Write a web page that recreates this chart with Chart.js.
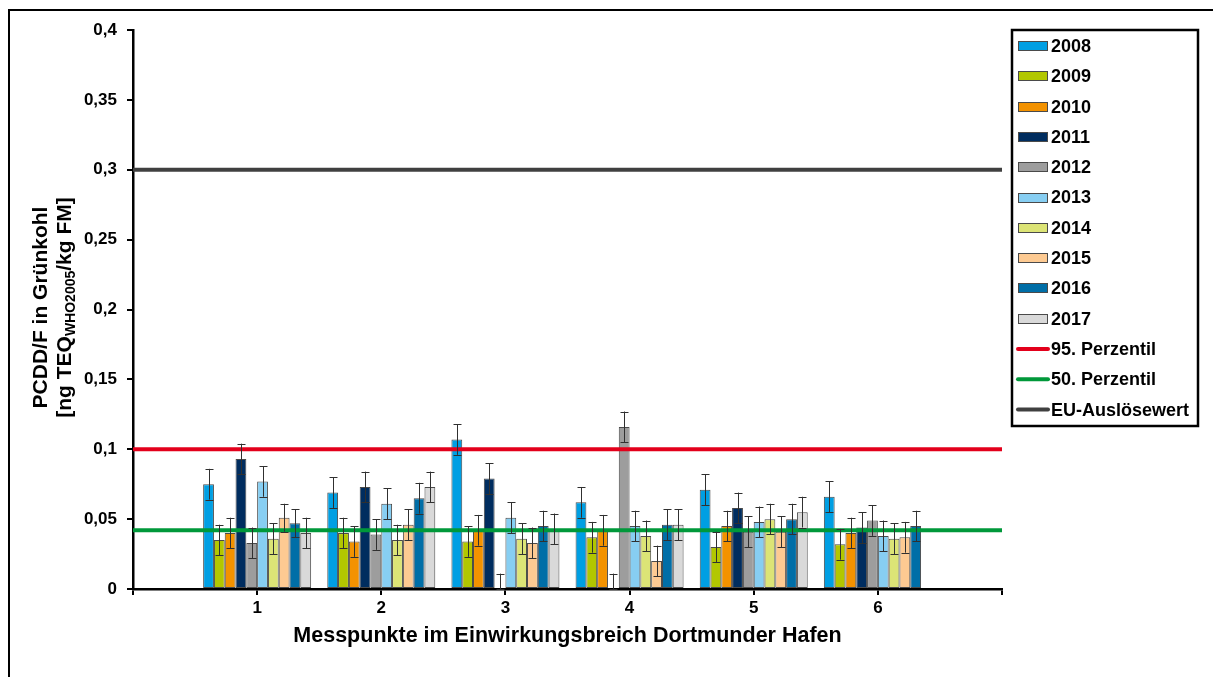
<!DOCTYPE html>
<html><head><meta charset="utf-8">
<script src="https://cdn.jsdelivr.net/npm/chart.js@4.4.1/dist/chart.umd.min.js"></script>
<style>html,body{margin:0;padding:0;background:#fff;}#wrap{position:relative;width:1213px;height:677px;}</style>
</head><body><div id="wrap"><canvas id="c" width="1213" height="677"></canvas></div>
<script>
const categories = ['1','2','3','4','5','6'];
const years = ['2008','2009','2010','2011','2012','2013','2014','2015','2016','2017'];
const v2008 = [0.075, 0.069, 0.107, 0.062, 0.071, 0.066];
const v2009 = [0.035, 0.040, 0.034, 0.037, 0.030, 0.032];
const v2010 = [0.040, 0.034, 0.042, 0.042, 0.045, 0.040];
const v2011 = [0.093, 0.073, 0.079, 0, 0.058, 0.044];
const v2012 = [0.033, 0.039, 0, 0.116, 0.041, 0.049];
const v2013 = [0.077, 0.061, 0.051, 0.045, 0.048, 0.038];
const v2014 = [0.036, 0.035, 0.036, 0.038, 0.050, 0.036];
const v2015 = [0.051, 0.046, 0.033, 0.020, 0.041, 0.037];
const v2016 = [0.047, 0.065, 0.045, 0.046, 0.050, 0.045];
const v2017 = [0.040, 0.073, 0.043, 0.046, 0.055, null];
const e2008 = [0.011, 0.011, 0.011, 0.011, 0.011, 0.011];
const e2009 = [0.011, 0.011, 0.011, 0.011, 0.011, 0.011];
const e2010 = [0.011, 0.011, 0.011, 0.011, 0.011, 0.011];
const e2011 = [0.011, 0.011, 0.011, 0.011, 0.011, 0.011];
const e2012 = [0.011, 0.011, 0.011, 0.011, 0.011, 0.011];
const e2013 = [0.011, 0.011, 0.011, 0.011, 0.011, 0.011];
const e2014 = [0.011, 0.011, 0.011, 0.011, 0.011, 0.011];
const e2015 = [0.010, 0.011, 0.011, 0.011, 0.011, 0.011];
const e2016 = [0.010, 0.011, 0.011, 0.011, 0.011, 0.011];
const e2017 = [0.011, 0.011, 0.011, 0.011, 0.011, 0.011];
const p95 = 0.1;
const p50 = 0.042;
const euTrigger = 0.3;
const yTicks = [0, 0.05, 0.1, 0.15, 0.2, 0.25, 0.3, 0.35, 0.4];

const values = [v2008, v2009, v2010, v2011, v2012, v2013, v2014, v2015, v2016, v2017];
const errors = [e2008, e2009, e2010, e2011, e2012, e2013, e2014, e2015, e2016, e2017];
const colors = ['#009FE3','#B2C700','#F39200','#002D5F','#9D9D9D','#87CEF2','#DCE476','#FDCA92','#006EA7','#D9D9D9'];
const FONT = '"Liberation Sans", Arial, sans-serif';

const labels = [''].concat(categories, ['']);
const pad = arr => [null].concat(arr, [null]);
const datasets = values.map((v, i) => ({
  type: 'bar', label: years[i], data: pad(v), errors: pad(errors[i]),
  backgroundColor: colors[i], borderColor: '#4a4a4a', borderWidth: 1, borderSkipped: false,
  categoryPercentage: 0.87, barPercentage: 1.0
}));
const flat = val => labels.map(() => val);
datasets.push({type:'line', label:'95. Perzentil', data: flat(p95), borderColor:'#E3001B', borderWidth:4, pointRadius:0, order:-1, isLine:true});
datasets.push({type:'line', label:'50. Perzentil', data: flat(p50), borderColor:'#00983A', borderWidth:4, pointRadius:0, order:-1, isLine:true});
datasets.push({type:'line', label:'EU-Auslösewert', data: flat(euTrigger), borderColor:'#404040', borderWidth:4, pointRadius:0, order:-1, isLine:true});

const extras = {
  id: 'extras',
  afterDatasetsDraw(chart) {
    const ctx = chart.ctx, ys = chart.scales.y;
    ctx.save();
    ctx.strokeStyle = '#303030'; ctx.lineWidth = 1;
    chart.data.datasets.forEach((ds, i) => {
      if (ds.isLine) return;
      const meta = chart.getDatasetMeta(i);
      meta.data.forEach((el, j) => {
        const v = ds.data[j], e = ds.errors[j];
        if (v == null || e == null) return;
        const x = Math.round(el.x) + 0.5;
        const yt = ys.getPixelForValue(v + e), yb = ys.getPixelForValue(Math.max(v - e, 0));
        ctx.beginPath();
        ctx.moveTo(x, yt); ctx.lineTo(x, yb);
        ctx.moveTo(x - 4, Math.round(yt) + 0.5); ctx.lineTo(x + 4, Math.round(yt) + 0.5);
        ctx.moveTo(x - 4, Math.round(yb) + 0.5); ctx.lineTo(x + 4, Math.round(yb) + 0.5);
        ctx.stroke();
      });
    });
    ctx.restore();
  },
  afterDraw(chart) {
    const ctx = chart.ctx;
    ctx.save();
    ctx.strokeStyle = '#000'; ctx.lineWidth = 2;
    ctx.beginPath(); ctx.moveTo(9, 677); ctx.lineTo(9, 10); ctx.lineTo(1213, 10); ctx.stroke();
    ctx.fillStyle = '#000';
    const cy = (chart.chartArea.top + chart.chartArea.bottom) / 2 - 2;
    ctx.save();
    ctx.translate(41, cy); ctx.rotate(-Math.PI / 2);
    ctx.font = 'bold 21px ' + FONT; ctx.textAlign = 'center'; ctx.textBaseline = 'middle';
    ctx.fillText('PCDD/F in Grünkohl', 0, 0);
    ctx.restore();
    ctx.save();
    ctx.translate(65, cy); ctx.rotate(-Math.PI / 2);
    ctx.textBaseline = 'middle'; ctx.textAlign = 'left';
    const big = 'bold 21px ' + FONT, small = 'bold 14px ' + FONT;
    const a = '[ng TEQ', b = 'WHO2005', c = '/kg FM]';
    ctx.font = big; const wa = ctx.measureText(a).width, wc = ctx.measureText(c).width;
    ctx.font = small; const wb = ctx.measureText(b).width;
    let x0 = -(wa + wb + wc) / 2;
    ctx.font = big; ctx.fillText(a, x0, 0); x0 += wa;
    ctx.font = small; ctx.fillText(b, x0, 6); x0 += wb;
    ctx.font = big; ctx.fillText(c, x0, 0);
    ctx.restore();
    ctx.font = 'bold 21.5px ' + FONT; ctx.textAlign = 'center'; ctx.textBaseline = 'middle';
    ctx.fillText('Messpunkte im Einwirkungsbreich Dortmunder Hafen', (chart.chartArea.left + chart.chartArea.right) / 2, 636);
    ctx.lineWidth = 2.5; ctx.strokeStyle = '#000';
    ctx.strokeRect(1012, 30, 186, 396);
    ctx.font = 'bold 18px ' + FONT; ctx.textAlign = 'left'; ctx.textBaseline = 'middle';
    chart.data.datasets.forEach((ds, i) => {
      const y = 46 + i * 30.3;
      if (ds.isLine) {
        ctx.strokeStyle = ds.borderColor; ctx.lineWidth = 4; ctx.lineCap = 'round';
        ctx.beginPath(); ctx.moveTo(1018, y); ctx.lineTo(1048, y); ctx.stroke();
        ctx.lineCap = 'butt';
      } else {
        ctx.fillStyle = ds.backgroundColor; ctx.fillRect(1018, Math.round(y) - 5, 30, 10);
        ctx.strokeStyle = '#4a4a4a'; ctx.lineWidth = 1;
        ctx.strokeRect(1018.5, Math.round(y) - 4.5, 29, 9);
      }
      ctx.fillStyle = '#000';
      ctx.fillText(ds.label, 1051, y + 1);
    });
    ctx.restore();
  }
};

new Chart(document.getElementById('c'), {
  data: { labels, datasets },
  options: {
    responsive: false, animation: false, devicePixelRatio: 1,
    layout: { padding: { left: 0, top: 30, right: 211, bottom: 0 } },
    plugins: { legend: { display: false }, tooltip: { enabled: false } },
    scales: {
      x: {
        type: 'category', offset: false,
        afterFit: s => { s.height = 88; },
        grid: { display: true, drawOnChartArea: false, offset: false, tickLength: 6, color: '#000', lineWidth: 2 },
        border: { display: true, color: '#000', width: 2.5 },
        ticks: { color: '#000', font: { family: FONT, size: 17, weight: 'bold' }, padding: 3, maxRotation: 0, autoSkip: false }
      },
      y: {
        min: 0, max: 0.4,
        afterFit: s => { s.width = 133; },
        afterBuildTicks: s => { s.ticks = yTicks.map(v => ({ value: v })); },
        grid: { display: true, drawOnChartArea: false, tickLength: 6, color: '#000', lineWidth: 2 },
        border: { display: true, color: '#000', width: 2.5 },
        ticks: { color: '#000', font: { family: FONT, size: 17, weight: 'bold' }, padding: 10,
          callback: v => v === 0 ? '0' : String(Number(v.toFixed(2))).replace('.', ',') }
      }
    }
  },
  plugins: [extras]
});
</script></body></html>
